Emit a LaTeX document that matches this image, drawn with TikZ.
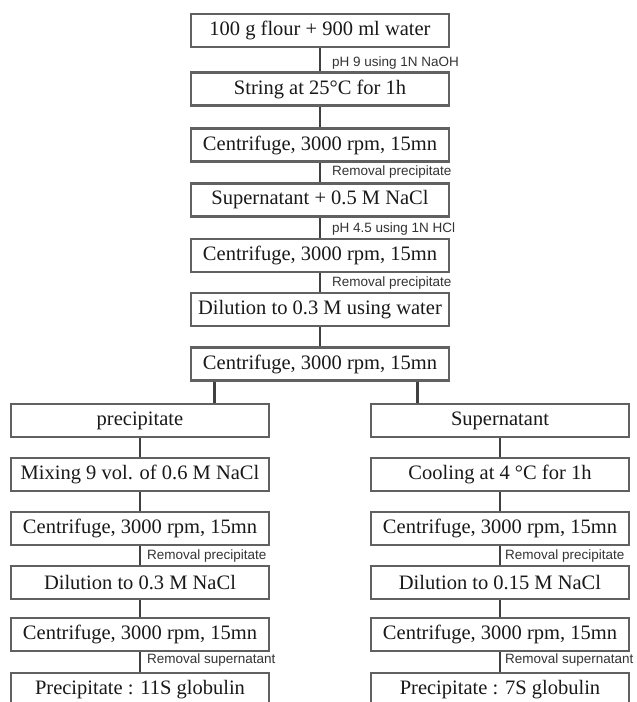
\documentclass[tikz,border=0pt]{standalone}
\usepackage{fontspec}
\setmainfont{Liberation Serif}
\newfontfamily\notefont{Liberation Sans}
\usetikzlibrary{calc}

\begin{document}
\begin{tikzpicture}[x=1pt, y=-1pt,
		stepbox/.style={draw=black!62, line width=2.4pt, fill=white, minimum width=258pt, minimum height=33pt, inner sep=0pt, font=\fontsize{20.5}{21}\selectfont, text=black!90},
		note/.style={anchor=west, inner sep=0pt, font=\notefont\fontsize{13.5}{14}\selectfont, text=black!80},
		link/.style={draw=black!75, line width=2.8pt}]
		\clip (0, 0) rectangle (637, 702);
		% main column
		\node[stepbox] (b1) at (320, 30.5) {100 g flour + 900 ml water};
		\node[stepbox] (b2) at (320, 89) {String at 25°C for 1h};
		\node[stepbox] (b3) at (320, 145) {Centrifuge, 3000 rpm, 15mn};
		\node[stepbox] (b4) at (320, 200) {Supernatant + 0.5 M NaCl};
		\node[stepbox] (b5) at (320, 255.5) {Centrifuge, 3000 rpm, 15mn};
		\node[stepbox] (b6) at (320, 309.5) {Dilution to 0.3 M using water};
		\node[stepbox] (b7) at (320, 364) {Centrifuge, 3000 rpm, 15mn};
		\foreach \a/\b in {b1/b2, b2/b3, b3/b4, b4/b5, b5/b6, b6/b7}
			\draw[link] (\a) -- (\b);
		\node[note] (n1) at (332, 63) {pH 9 using 1N NaOH};
		\node[note] (n2) at (332, 172) {Removal precipitate};
		\node[note] (n3) at (332, 229) {pH 4.5 using 1N HCl};
		\node[note] (n4) at (332, 283) {Removal precipitate};
		% precipitate branch
		\node[stepbox] (p1) at (140, 420.5) {precipitate};
		\node[stepbox] (p2) at (140, 474.5) {Mixing 9 vol. of 0.6 M NaCl};
		\node[stepbox] (p3) at (140, 528.5) {Centrifuge, 3000 rpm, 15mn};
		\node[stepbox] (p4) at (140, 582.5) {Dilution to 0.3 M NaCl};
		\node[stepbox] (p5) at (140, 634.5) {Centrifuge, 3000 rpm, 15mn};
		\node[stepbox] (p6) at (140, 689.5) {Precipitate : 11S globulin};
		\foreach \a/\b in {p1/p2, p2/p3, p3/p4, p4/p5, p5/p6}
			\draw[link] (\a) -- (\b);
		\node[note] (n5) at (147, 556) {Removal precipitate};
		\node[note] (n6) at (147, 660) {Removal supernatant};
		% supernatant branch
		\node[stepbox] (s1) at (500, 420.5) {Supernatant};
		\node[stepbox] (s2) at (500, 474.5) {Cooling at 4 °C for 1h};
		\node[stepbox] (s3) at (500, 528.5) {Centrifuge, 3000 rpm, 15mn};
		\node[stepbox] (s4) at (500, 582.5) {Dilution to 0.15 M NaCl};
		\node[stepbox] (s5) at (500, 634.5) {Centrifuge, 3000 rpm, 15mn};
		\node[stepbox] (s6) at (500, 689.5) {Precipitate : 7S globulin};
		\foreach \a/\b in {s1/s2, s2/s3, s3/s4, s4/s5, s5/s6}
			\draw[link] (\a) -- (\b);
		\node[note] (n7) at (505, 556) {Removal precipitate};
		\node[note] (n8) at (505, 660) {Removal supernatant};
		% split
		\coordinate (bl) at ($(b7.south west)!.096!(b7.south east)$);
		\coordinate (br) at ($(b7.south west)!.873!(b7.south east)$);
		\draw[link] (bl) -- (bl |- p1.north);
		\draw[link] (br) -- (br |- s1.north);
\end{tikzpicture}
\end{document}
